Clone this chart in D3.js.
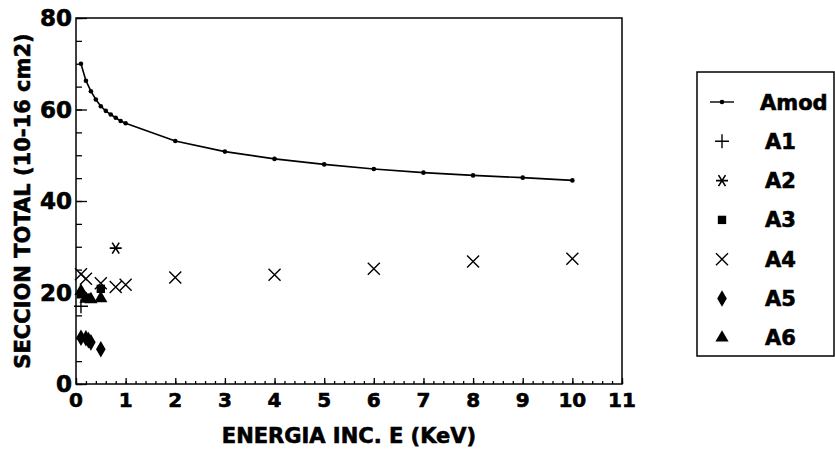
<!DOCTYPE html>
<html>
<head>
<meta charset="utf-8">
<script src="https://cdn.jsdelivr.net/npm/d3@7"></script>
<style>
  body { margin: 0; background: #fff; }
  text { font-family: "DejaVu Sans", sans-serif; font-weight: bold; fill: #000; stroke: #000; stroke-width: 0.6px; }
</style>
</head>
<body>
<script>
var w = 835;
var h = 460;

var margin = { top: 18, bottom: 76, left: 76, right: 213 };

// series values (energy in KeV, cross section in 10-16 cm2)
var amodE = [0.1, 0.2, 0.3, 0.4, 0.5, 0.6, 0.7, 0.8, 0.9, 1, 2, 3, 4, 5, 6, 7, 8, 9, 10];
var amodS = [70, 66.3, 64, 62.2, 60.7, 59.7, 58.9, 58.2, 57.5, 57, 53.1, 50.8, 49.2, 48, 47, 46.2, 45.6, 45.1, 44.5];
var a1E = [0.1];
var a1S = [17];
var a2E = [0.8];
var a2S = [29.7];
var a3E = [0.1, 0.2, 0.5];
var a3S = [19.6, 18.9, 20.8];
var a4E = [0.1, 0.2, 0.5, 0.8, 1, 2, 4, 6, 8, 10];
var a4S = [24, 23, 22, 21.2, 21.7, 23.3, 23.9, 25.2, 26.8, 27.4];
var a5E = [0.1, 0.2, 0.25, 0.3, 0.5];
var a5S = [10.1, 10, 9.6, 9.1, 7.6];
var a6E = [0.1, 0.2, 0.3, 0.5];
var a6S = [20.3, 18.6, 18.5, 18.7];

var seriesNames = ["Amod", "A1", "A2", "A3", "A4", "A5", "A6"];
var xTicks = [0, 1, 2, 3, 4, 5, 6, 7, 8, 9, 10, 11];
var yTicks = [0, 20, 40, 60, 80];

var width = w - margin.left - margin.right;
var height = h - margin.top - margin.bottom;

var x = d3.scaleLinear().domain([0, 11]).range([0, width]);
var y = d3.scaleLinear().domain([0, 80]).range([height, 0]);

var svg = d3.select("body")
    .append("svg")
    .attr("width", w)
    .attr("height", h);

var g = svg.append("g")
    .attr("transform", "translate(" + margin.left + "," + margin.top + ")");

// frame
g.append("rect")
    .attr("width", width)
    .attr("height", height)
    .attr("fill", "none")
    .attr("stroke", "#000")
    .attr("stroke-width", 1.5);

// minor ticks
g.append("g")
    .attr("transform", "translate(0," + height + ")")
    .call(d3.axisTop(x).tickValues(d3.range(0, 11.01, 0.2)).tickSize(3).tickFormat(""))
    .call(function(a){ a.select(".domain").remove(); });
g.append("g")
    .call(d3.axisRight(y).tickValues(d3.range(0, 80.1, 5)).tickSize(6).tickFormat(""))
    .call(function(a){ a.select(".domain").remove(); });

// major ticks
g.append("g")
    .attr("transform", "translate(0," + height + ")")
    .call(d3.axisTop(x).tickValues(xTicks).tickSize(6).tickFormat(""))
    .call(function(a){ a.select(".domain").remove(); });
g.append("g")
    .call(d3.axisRight(y).tickValues(yTicks).tickSize(11).tickFormat(""))
    .call(function(a){ a.select(".domain").remove(); });

g.selectAll(".tick line").attr("stroke", "#000").attr("stroke-width", 1.3);

// tick labels
g.selectAll(".xlab")
    .data(xTicks)
    .enter()
    .append("text")
    .attr("x", function(d){ return x(d); })
    .attr("y", height + 23)
    .attr("text-anchor", "middle")
    .style("font-size", "20px")
    .text(function(d){ return d; });

g.selectAll(".ylab")
    .data(yTicks)
    .enter()
    .append("text")
    .attr("x", -4)
    .attr("y", function(d){ return y(d); })
    .attr("dy", "0.36em")
    .attr("text-anchor", "end")
    .style("font-size", "23px")
    .text(function(d){ return d; });

// axis titles
g.append("text")
    .attr("x", width / 2)
    .attr("y", height + 59)
    .attr("text-anchor", "middle")
    .style("font-size", "21px")
    .text("ENERGIA INC. E (KeV)");

g.append("text")
    .attr("transform", "translate(-46," + height / 2 + ") rotate(-90)")
    .attr("text-anchor", "middle")
    .style("font-size", "21px")
    .text("SECCION TOTAL (10-16 cm2)");

// marker drawing
function marker(sel, type) {
    if (type == "plus") {
        sel.append("path").attr("d", "M-7,0H7M0,-7V7")
            .attr("stroke", "#000").attr("stroke-width", 1.4).attr("fill", "none");
    } else if (type == "x") {
        sel.append("path").attr("d", "M-6,-6L6,6M-6,6L6,-6")
            .attr("stroke", "#000").attr("stroke-width", 1.4).attr("fill", "none");
    } else if (type == "star") {
        sel.append("path").attr("d", "M-6,0H6M-3.5,-5.5L3.5,5.5M-3.5,5.5L3.5,-5.5")
            .attr("stroke", "#000").attr("stroke-width", 1.6).attr("fill", "none");
    } else if (type == "square") {
        sel.append("path").attr("d", d3.symbol().type(d3.symbolSquare).size(70)());
    } else if (type == "diamond") {
        sel.append("path").attr("d", d3.symbol().type(d3.symbolDiamond).size(80)());
    } else if (type == "triangle") {
        sel.append("path").attr("d", d3.symbol().type(d3.symbolTriangle).size(75)());
    } else if (type == "dot") {
        sel.append("circle").attr("r", 2.3);
    }
}

// Amod line
var amod = amodE.map(function(d, i){ return [d, amodS[i]]; });
g.append("path")
    .datum(amod)
    .attr("d", d3.line().x(function(d){ return x(d[0]); }).y(function(d){ return y(d[1]); }))
    .attr("fill", "none")
    .attr("stroke", "#000")
    .attr("stroke-width", 1.6);

var series = [
    { e: amodE, s: amodS, type: "dot" },
    { e: a1E, s: a1S, type: "plus" },
    { e: a2E, s: a2S, type: "star" },
    { e: a3E, s: a3S, type: "square" },
    { e: a4E, s: a4S, type: "x" },
    { e: a5E, s: a5S, type: "diamond" },
    { e: a6E, s: a6S, type: "triangle" }
];

series.forEach(function(ser){
    ser.e.forEach(function(e, i){
        var m = g.append("g")
            .attr("transform", "translate(" + x(e) + "," + y(ser.s[i]) + ")");
        marker(m, ser.type);
    });
});

// legend
var legend = svg.append("g").attr("transform", "translate(697,72)");
legend.append("rect")
    .attr("width", 137)
    .attr("height", 284)
    .attr("fill", "none")
    .attr("stroke", "#000")
    .attr("stroke-width", 1.5);

seriesNames.forEach(function(name, i){
    var row = legend.append("g").attr("transform", "translate(25," + (30 + i * 39.3) + ")");
    if (i == 0) {
        row.append("path").attr("d", "M-12,0H12").attr("stroke", "#000").attr("stroke-width", 1.4);
    }
    marker(row, series[i].type);
    row.append("text")
        .attr("x", i == 0 ? 38 : 43)
        .attr("dy", "0.36em")
        .style("font-size", "21px")
        .text(name);
});
</script>
</body>
</html>
